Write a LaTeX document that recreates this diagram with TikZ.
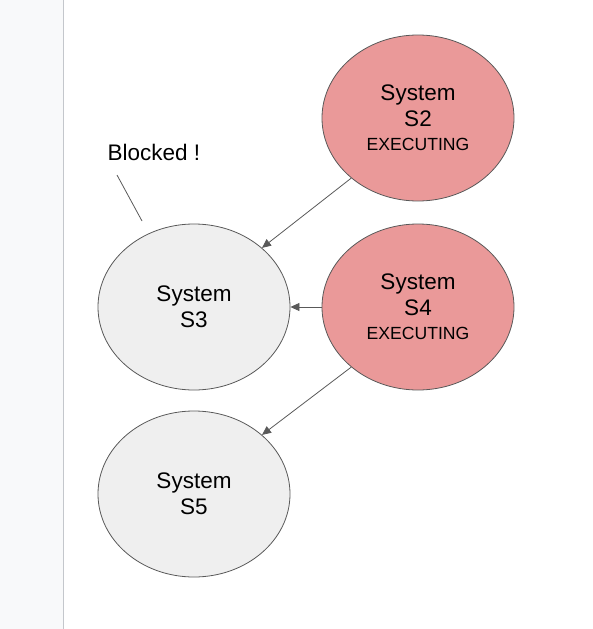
\documentclass[tikz,border=0pt]{standalone}
\usepackage{fontspec}
\setmainfont{Liberation Sans}
\usetikzlibrary{shapes.geometric,arrows.meta}
\definecolor{execfill}{HTML}{EA9999}
\definecolor{idlefill}{HTML}{EFEFEF}
\definecolor{edgegray}{HTML}{595959}
\definecolor{panelfill}{HTML}{F8F9FA}
\definecolor{panelline}{HTML}{C4C7CC}
\begin{document}
\begin{tikzpicture}[x=1pt,y=-1pt,
sysnode/.style={ellipse, draw=edgegray, line width=0.8pt, minimum width=192pt, minimum height=166pt, inner sep=0pt, align=center, font=\fontsize{22.5}{26}\selectfont},
execnode/.style={sysnode, fill=execfill},
idlenode/.style={sysnode, fill=idlefill},
link/.style={draw=edgegray, line width=0.8pt, -{Triangle[length=9pt,width=8pt]}},
]
%Background
\useasboundingbox (0,0) rectangle (593,629);
\fill[panelfill] (0,0) rectangle (63,629);
\draw[panelline, line width=1pt] (63,0) -- (63,629);

%Nodes
\node[execnode] (s2) at (418,118) {System\\S2\\[-2pt]{\fontsize{17.6}{18}\selectfont EXECUTING}};
\node[idlenode] (s3) at (194,307) {System\\S3};
\node[execnode] (s4) at (418,307) {System\\S4\\[-2pt]{\fontsize{17.6}{18}\selectfont EXECUTING}};
\node[idlenode] (s5) at (194,494) {System\\S5};
\node[font=\fontsize{22.5}{26}\selectfont] (blocked) at (154,152) {Blocked !};
\coordinate (tagtop) at (117,175);
\coordinate (tagend) at (142,221);

%Lines
\draw[link] (s2.222) -- (s3.41);
\draw[link] (s4.west) -- (s3.east);
\draw[link] (s4.222) -- (s5.41);
\draw[draw=edgegray, line width=0.8pt] (tagtop) -- (tagend);
\end{tikzpicture}
\end{document}
